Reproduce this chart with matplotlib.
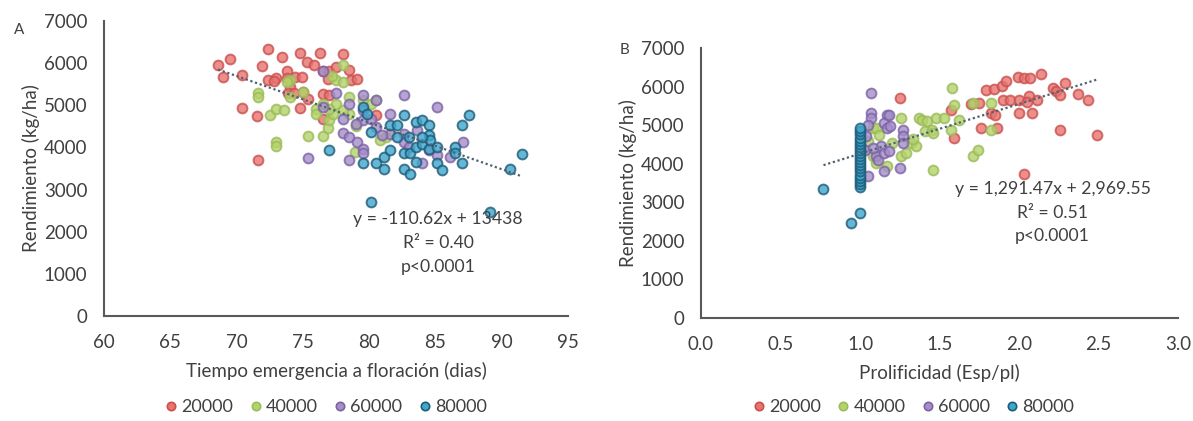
import matplotlib
matplotlib.use("Agg")
import matplotlib.pyplot as plt
from matplotlib.lines import Line2D

plt.rcParams['font.family'] = ['Lato', 'DejaVu Sans']

# Panel A: tiempo emergencia a floracion (dias) vs rendimiento (kg/ha)
a_20000 = [(68.6, 5950), (69.0, 5660), (69.5, 6090), (70.4, 5710), (70.4, 4930), (71.5, 4740),
           (71.6, 3710), (71.9, 5940), (72.4, 6330), (72.4, 5600), (73.0, 5650), (73.4, 6140),
           (73.8, 5810), (73.8, 5650), (74.0, 5430), (74.4, 5680), (74.8, 6230), (74.9, 5680),
           (74.8, 4930), (75.3, 6030), (75.0, 5320), (75.4, 5160), (75.8, 5960), (76.3, 6240),
           (76.5, 5260), (76.5, 4680), (76.5, 5810), (76.9, 5630), (77.0, 5240), (77.0, 5810),
           (77.5, 5910), (78.0, 6220), (78.5, 5830), (78.6, 5590), (79.1, 5630), (80.5, 4760),
           (73.9, 5300), (74.3, 5280), (72.8, 5580)]
a_40000 = [(71.6, 5290), (71.6, 5200), (72.5, 4760), (73.0, 4920), (73.6, 4880), (73.0, 4130),
           (73.0, 4030), (74.0, 5200), (74.0, 5590), (73.8, 5560), (75.4, 4260), (76.5, 4260),
           (76.9, 4450), (77.0, 4650), (76.0, 4920), (76.5, 5040), (77.5, 5040), (77.5, 5590),
           (78.0, 5950), (78.0, 5550), (78.5, 5200), (78.5, 4800), (78.9, 3890), (79.5, 5120),
           (80.1, 5040), (80.5, 5120), (80.8, 4170), (81.3, 4250), (77.3, 4800), (78.0, 4880),
           (76.0, 4800), (77.0, 4920), (75.0, 5320), (77.2, 5700), (79.0, 4500)]
a_60000 = [(76.5, 5810), (76.5, 4950), (77.5, 5290), (78.0, 4680), (78.0, 4340), (78.5, 5040),
           (78.5, 4250), (78.5, 3710), (75.4, 3760), (79.5, 5240), (79.5, 4880), (79.5, 4650),
           (79.1, 4130), (79.5, 3970), (79.5, 3860), (80.1, 4680), (80.5, 5120), (80.5, 4490),
           (81.6, 4800), (81.6, 4330), (82.6, 5250), (82.6, 4330), (82.6, 4130), (83.6, 4410),
           (84.0, 3630), (85.1, 4950), (85.1, 3820), (86.1, 3780), (87.1, 4130), (84.5, 3930),
           (79.0, 4550), (81.0, 4300), (83.0, 4000)]
a_80000 = [(77.0, 3930), (79.5, 4960), (79.5, 3620), (80.1, 4370), (80.1, 2710), (80.5, 3620),
           (81.1, 3480), (81.1, 3780), (81.6, 4530), (81.6, 3930), (82.1, 4530), (82.1, 4250),
           (82.6, 4760), (82.6, 3860), (82.6, 3480), (83.1, 3860), (83.1, 3380), (83.5, 3660),
           (83.5, 4010), (83.5, 4600), (84.0, 4660), (84.0, 4090), (84.5, 4530), (84.5, 4290),
           (84.5, 3970), (84.6, 4170), (85.1, 4010), (85.1, 3620), (85.5, 3460), (86.5, 4010),
           (86.5, 3860), (87.0, 4530), (87.0, 3620), (87.5, 4760), (89.1, 2470), (90.6, 3480),
           (91.5, 3840), (83.0, 4250), (84.0, 4250), (79.8, 4800)]

# Panel B: prolificidad (esp/pl) vs rendimiento (kg/ha)
b_20000 = [(1.25, 5700), (1.57, 5400), (1.59, 4670), (1.75, 5580), (1.76, 4930), (1.79, 5920),
           (1.82, 5320), (1.84, 5940), (1.85, 5270), (1.86, 4940), (1.89, 6010), (1.90, 5660),
           (1.92, 6140), (1.94, 5660), (1.99, 6250), (2.00, 5660), (2.00, 5320), (2.03, 6220),
           (2.07, 6220), (2.03, 3730), (2.06, 5750), (2.08, 5320), (2.11, 5660), (2.14, 6340),
           (2.21, 5960), (2.23, 5900), (2.26, 5790), (2.26, 4880), (2.29, 6090), (2.37, 5820),
           (2.43, 5660), (2.49, 4750), (1.70, 5560), (2.05, 5600)]
b_40000 = [(1.08, 4930), (1.10, 4930), (1.08, 4200), (1.10, 4020), (1.17, 3930), (1.20, 4540),
           (1.26, 5190), (1.26, 4190), (1.29, 4280), (1.32, 4540), (1.35, 4450), (1.37, 5190),
           (1.39, 5140), (1.41, 4840), (1.42, 5100), (1.45, 4880), (1.46, 4800), (1.46, 3850),
           (1.48, 5190), (1.53, 5190), (1.58, 5960), (1.59, 5530), (1.62, 5140), (1.57, 4880),
           (1.71, 4190), (1.74, 4360), (1.71, 5580), (1.82, 5580), (1.82, 4880), (1.33, 4650),
           (1.05, 4600), (1.12, 4750)]
b_60000 = [(1.07, 5830), (1.07, 5320), (1.07, 5190), (1.04, 4710), (1.10, 4190), (1.11, 4100),
           (1.13, 4450), (1.15, 4280), (1.15, 3800), (1.17, 5270), (1.15, 5060), (1.17, 4930),
           (1.18, 4320), (1.18, 5270), (1.19, 4970), (1.25, 3890), (1.27, 4880), (1.27, 4710),
           (1.27, 4540), (1.05, 3670), (1.03, 4360), (1.08, 4410), (1.05, 5000)]
b_80000 = [(1.0, 3400), (1.0, 3480), (1.0, 3560), (1.0, 3640), (1.0, 3720), (1.0, 3800),
           (1.0, 3880), (1.0, 3960), (1.0, 4040), (1.0, 4120), (1.0, 4200), (1.0, 4280),
           (1.0, 4360), (1.0, 4440), (1.0, 4520), (1.0, 4600), (1.0, 4680), (1.0, 4760),
           (1.0, 4840), (1.0, 4920), (0.77, 3350), (1.0, 2720), (0.94, 2460)]

densidades = ['20000', '40000', '60000', '80000']
face_colors = ['#E8736F', '#B3D36B', '#A48FC9', '#3FA7CB']
edge_colors = ['#C9504D', '#9BBB59', '#7D62A5', '#1D5A78']

# trend lines (from the reported regressions)
trend_a = (-110.62, 13438, 68.6, 91.5)
trend_b = (1291.47, 2969.55, 0.77, 2.5)

TXT = '#404040'


def draw_panel(ax, groups, trend, xlim, xticks, xfmt, xlabel, eq_lines, eq_xy, leg_anchor):
    for pts, fc, ec in zip(groups, face_colors, edge_colors):
        xs = [p[0] for p in pts]
        ys = [p[1] for p in pts]
        ax.scatter(xs, ys, s=50, facecolor=fc, edgecolor=ec, linewidth=1.4,
                   alpha=0.8, zorder=3)
    m, b, x0, x1 = trend
    ax.plot([x0, x1], [m * x0 + b, m * x1 + b], linestyle=(0, (1, 1.2)),
            color='#4F6272', linewidth=1.6, zorder=4)

    ax.set_xlim(*xlim)
    ax.set_ylim(0, 7000)
    ax.set_xticks(xticks)
    ax.set_xticklabels([xfmt.format(t) for t in xticks])
    ax.set_yticks(range(0, 7001, 1000))
    ax.tick_params(length=0, labelsize=13.5, colors=TXT)
    ax.tick_params(axis='x', pad=13)
    ax.tick_params(axis='y', pad=12)
    for s in ['top', 'right']:
        ax.spines[s].set_visible(False)
    for s in ['left', 'bottom']:
        ax.spines[s].set_color('#595959')
        ax.spines[s].set_linewidth(1.5)
    ax.set_xlabel(xlabel, fontsize=13.5, color=TXT, labelpad=8)
    ax.set_ylabel('Rendimiento (kg/ha)', fontsize=13.5, color=TXT, labelpad=3)
    ax.text(eq_xy[0], eq_xy[1], '\n'.join(eq_lines), ha='center', va='top',
            fontsize=12.7, color=TXT, linespacing=1.6)

    handles = [Line2D([], [], marker='o', linestyle='', markersize=6,
                      markerfacecolor=fc, markeredgecolor=ec, markeredgewidth=1.2,
                      label=lab)
               for fc, ec, lab in zip(face_colors, edge_colors, densidades)]
    ax.legend(handles=handles, loc='center', bbox_to_anchor=leg_anchor,
              ncol=4, frameon=False, fontsize=13, handlelength=0.5,
              handletextpad=0.3, columnspacing=1.0, labelcolor=TXT,
              borderpad=0.1)


fig = plt.figure(figsize=(11.93, 4.21), dpi=100)
ax_a = fig.add_axes([0.0872, 0.2494, 0.389, 0.7007])
ax_b = fig.add_axes([0.5876, 0.2447, 0.400, 0.641])

draw_panel(ax_a, [a_20000, a_40000, a_60000, a_80000], trend_a, (60, 95),
           [60, 65, 70, 75, 80, 85, 90, 95], '{:d}',
           'Tiempo emergencia a floración (dias)',
           ['y = -110.62x + 13438', 'R² = 0.40', 'p<0.0001'], (85.2, 2480),
           (0.48, -0.31))
draw_panel(ax_b, [b_20000, b_40000, b_60000, b_80000], trend_b, (0, 3),
           [0.0, 0.5, 1.0, 1.5, 2.0, 2.5, 3.0], '{:.1f}',
           'Prolificidad (Esp/pl)',
           ['y = 1,291.47x + 2,969.55', 'R² = 0.51', 'p<0.0001'], (2.21, 3560),
           (0.447, -0.33))

fig.text(14 / 1193, 1 - 30 / 421, 'A', fontsize=11, color=TXT, ha='left', va='center')
fig.text(620 / 1193, 1 - 50 / 421, 'B', fontsize=11, color=TXT, ha='left', va='center')

fig.savefig('out.png', dpi=100, facecolor='white')
